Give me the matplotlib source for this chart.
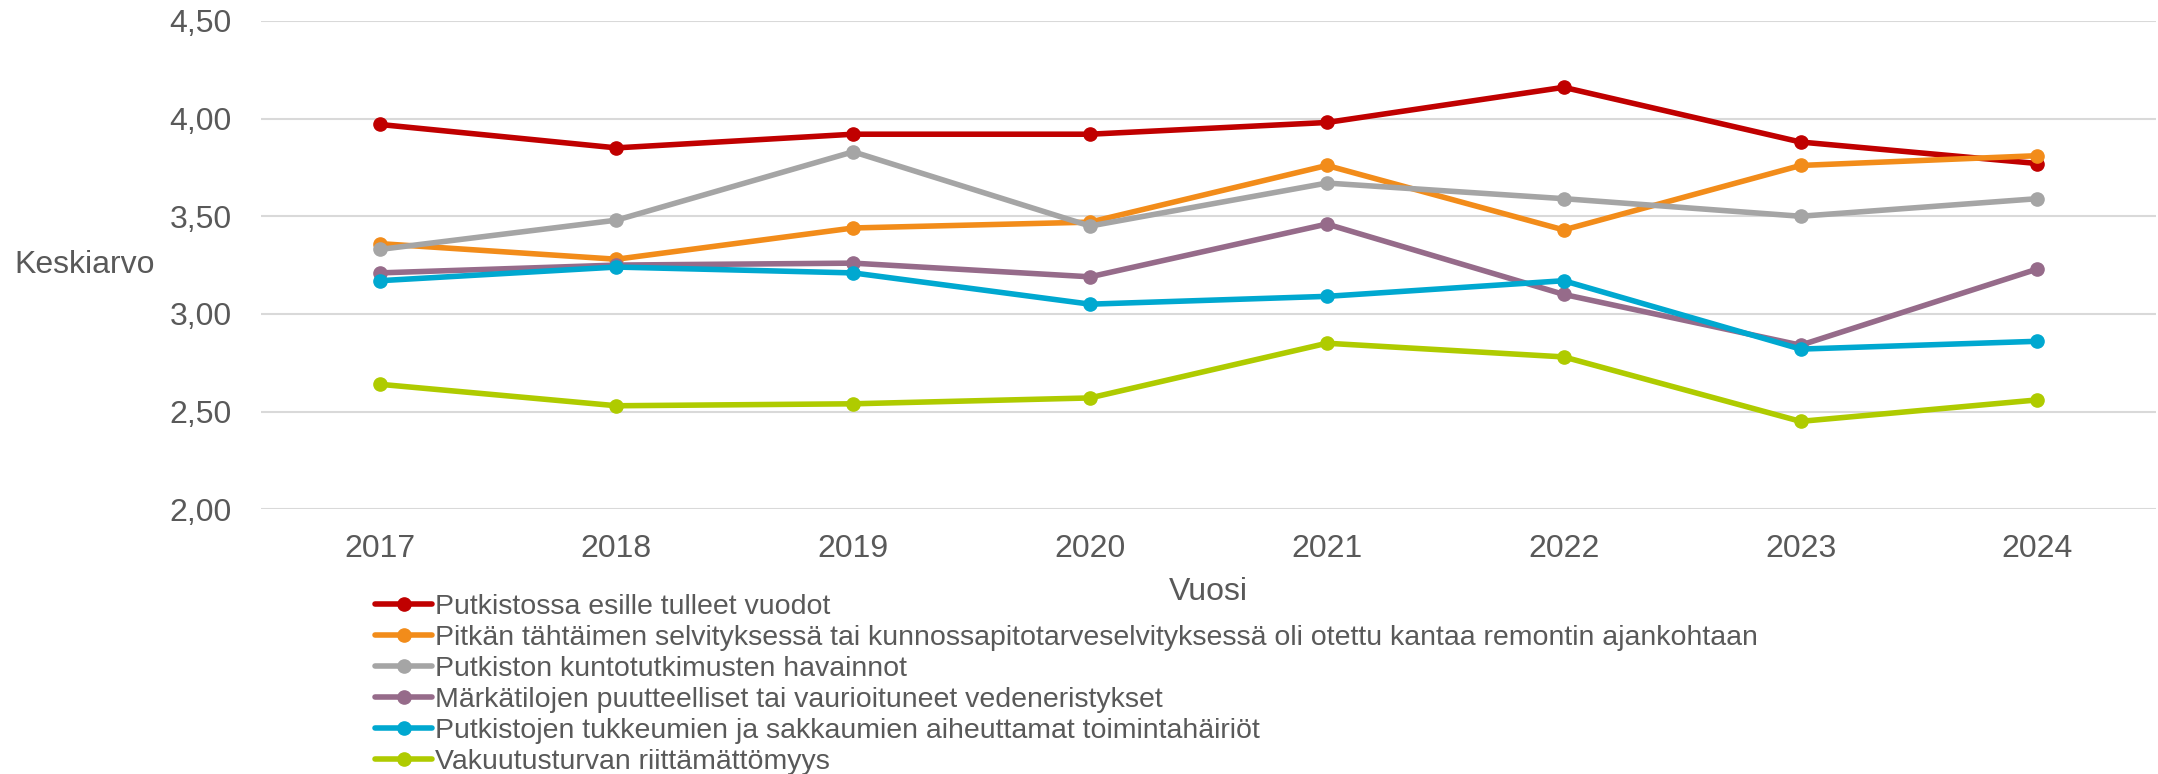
import matplotlib
matplotlib.use("Agg")
import matplotlib.pyplot as plt
from matplotlib.ticker import FuncFormatter, MultipleLocator

plt.rcParams['font.family'] = ['Liberation Sans', 'DejaVu Sans']

years = ['2017', '2018', '2019', '2020', '2021', '2022', '2023', '2024']

series_names = [
    "Putkistossa esille tulleet vuodot",
    "Pitkän tähtäimen selvityksessä tai kunnossapitotarveselvityksessä oli otettu kantaa remontin ajankohtaan",
    "Putkiston kuntotutkimusten havainnot",
    "Märkätilojen puutteelliset tai vaurioituneet vedeneristykset",
    "Putkistojen tukkeumien ja sakkaumien aiheuttamat toimintahäiriöt",
    "Vakuutusturvan riittämättömyys",
]

vuodot = [3.97, 3.85, 3.92, 3.92, 3.98, 4.16, 3.88, 3.77]
pts_selvitys = [3.36, 3.28, 3.44, 3.47, 3.76, 3.43, 3.76, 3.81]
kuntotutkimus = [3.33, 3.48, 3.83, 3.45, 3.67, 3.59, 3.50, 3.59]
vedeneristys = [3.21, 3.25, 3.26, 3.19, 3.46, 3.10, 2.84, 3.23]
tukkeumat = [3.17, 3.24, 3.21, 3.05, 3.09, 3.17, 2.82, 2.86]
vakuutus = [2.64, 2.53, 2.54, 2.57, 2.85, 2.78, 2.45, 2.56]

all_values = [vuodot, pts_selvitys, kuntotutkimus, vedeneristys, tukkeumat, vakuutus]
colors = ['#C00000', '#F28C1A', '#A5A5A5', '#966B8A', '#00A8D0', '#AFCB00']

text_color = '#595959'

fig = plt.figure(figsize=(21.58, 7.74), dpi=100)
ax = fig.add_axes([0.121, 0.342, 0.878, 0.631])

x = list(range(len(years)))
for name, vals, c in zip(series_names, all_values, colors):
    ax.plot(x, vals, color=c, lw=4.0, marker='o', markersize=9.5,
            label=name, solid_capstyle='round')

ax.set_xlim(-0.5, len(years) - 0.5)
ax.set_ylim(2.0, 4.5)
ax.yaxis.set_major_locator(MultipleLocator(0.5))
ax.yaxis.set_major_formatter(FuncFormatter(lambda v, p: f"{v:.2f}".replace('.', ',')))
ax.set_xticks(x)
ax.set_xticklabels(years)
ax.grid(axis='y', color='#D9D9D9', lw=1.5)
ax.set_axisbelow(True)
for s in ax.spines.values():
    s.set_visible(False)
ax.tick_params(axis='both', length=0, labelsize=23, colors=text_color)
ax.tick_params(axis='x', pad=18)
ax.tick_params(axis='y', pad=21)

ax.set_xlabel('Vuosi', fontsize=23, color=text_color, labelpad=9)
ax.set_ylabel('Keskiarvo', fontsize=23, color=text_color, rotation=0, ha='center', va='center')
ax.yaxis.set_label_coords(-0.093, 0.5)

leg = fig.legend(loc='upper left', bbox_to_anchor=(0.174, 0.232), frameon=False,
                 fontsize=20.5, handlelength=2.0, handletextpad=0.1, labelspacing=0.17,
                 borderaxespad=0, borderpad=0)
for t in leg.get_texts():
    t.set_color(text_color)

fig.savefig('out.png', dpi=100)
